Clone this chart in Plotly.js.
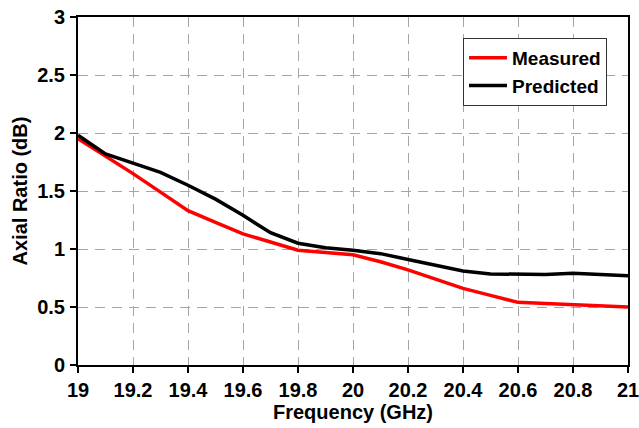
<!DOCTYPE html>
<html>
<head>
<meta charset="utf-8">
<script src="https://cdn.plot.ly/plotly-3.0.1.min.js"></script>
<style>
  html, body { margin: 0; padding: 0; background: #fff; }
  #chart { width: 639px; height: 428px; }
</style>
</head>
<body>
<div id="chart"></div>
<script>
// Frequency sweep (GHz)
const frequency = [19.0, 19.1, 19.2, 19.3, 19.4, 19.5, 19.6, 19.7, 19.8, 19.9, 20.0,
                   20.1, 20.2, 20.3, 20.4, 20.5, 20.6, 20.7, 20.8, 20.9, 21.0];

// Axial ratio (dB)
const measured  = [1.95, 1.80, 1.65, 1.49, 1.33, 1.23, 1.13, 1.06, 0.99, 0.97, 0.95,
                   0.89, 0.82, 0.74, 0.66, 0.60, 0.54, 0.53, 0.52, 0.51, 0.50];
const predicted = [1.98, 1.82, 1.74, 1.66, 1.55, 1.43, 1.29, 1.14, 1.05, 1.01, 0.99,
                   0.96, 0.91, 0.86, 0.81, 0.785, 0.78, 0.78, 0.79, 0.78, 0.77];

const xTicks = [19, 19.2, 19.4, 19.6, 19.8, 20, 20.2, 20.4, 20.6, 20.8, 21];
const yTicks = [0, 0.5, 1, 1.5, 2, 2.5, 3];

const fontFamily = 'Liberation Sans, Arial, sans-serif';

const traces = [
  { x: frequency, y: measured, name: 'Measured', type: 'scatter', mode: 'lines',
    line: { color: '#ff0000', width: 3.5 } },
  { x: frequency, y: predicted, name: 'Predicted', type: 'scatter', mode: 'lines',
    line: { color: '#000000', width: 3.5 } }
];

const axisCommon = {
  showline: true, linecolor: '#000', linewidth: 2, mirror: true,
  ticks: 'outside', ticklen: 6, tickwidth: 2, tickcolor: '#000',
  showgrid: true, gridcolor: '#a6a6a6', gridwidth: 1, griddash: '10px,7px',
  zeroline: false, ticklabeloverflow: 'allow',
  tickfont: { family: fontFamily, size: 20, color: '#000', weight: 'bold' }
};

const layout = {
  width: 639, height: 428,
  margin: { l: 78, r: 11, t: 17, b: 63 },
  paper_bgcolor: '#fff', plot_bgcolor: '#fff',
  font: { family: fontFamily, color: '#000' },
  showlegend: true,
  legend: {
    x: 0.70, y: 0.94, xanchor: 'left', yanchor: 'top',
    bgcolor: '#fff', bordercolor: '#333', borderwidth: 1,
    itemwidth: 38,
    font: { family: fontFamily, size: 19, color: '#000', weight: 'bold' },
    tracegroupgap: 0
  },
  xaxis: Object.assign({}, axisCommon, {
    range: [19, 21], tickvals: xTicks, ticktext: xTicks.map(String),
    title: { text: 'Frequency (GHz)', standoff: 3,
             font: { family: fontFamily, size: 20, color: '#000', weight: 'bold' } }
  }),
  yaxis: Object.assign({}, axisCommon, {
    range: [0, 3], tickvals: yTicks, ticktext: yTicks.map(String),
    ticklabelstandoff: 1,
    title: { text: 'Axial Ratio (dB)', standoff: 4,
             font: { family: fontFamily, size: 20, color: '#000', weight: 'bold' } }
  })
};

Plotly.newPlot('chart', traces, layout, { displayModeBar: false, staticPlot: true });
</script>
</body>
</html>
